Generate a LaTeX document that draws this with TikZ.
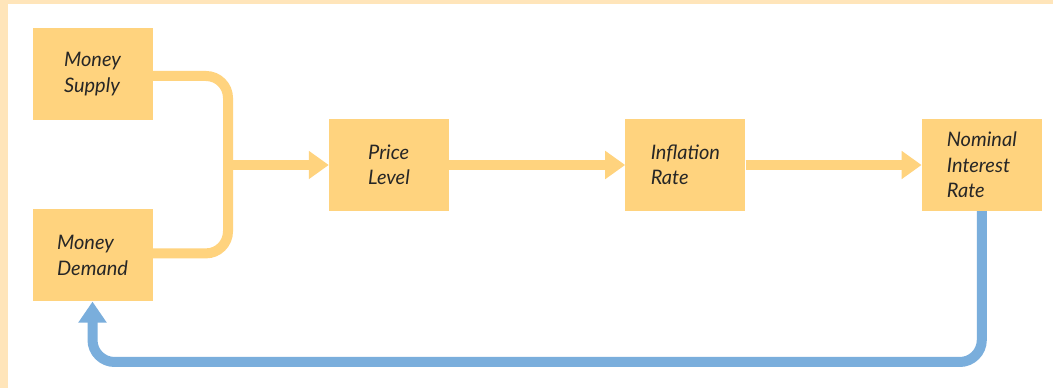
\documentclass[tikz,border=0pt]{standalone}
\usepackage{fontspec}
\setmainfont{Lato}
\usetikzlibrary{positioning, arrows.meta}
\definecolor{boxYellow}{HTML}{FFD37E}
\definecolor{loopBlue}{HTML}{7AAEDC}
\definecolor{frameTan}{HTML}{FFE5BA}
\definecolor{textGray}{HTML}{262626}

\begin{document}
\begin{tikzpicture}[
    node distance=89pt and 176pt,
    factor/.style={rectangle, fill=boxYellow, align=left, minimum width=120pt, minimum height=92pt, inner sep=0pt,
      font=\fontsize{20pt}{25.5pt}\selectfont\itshape, text=textGray},
    yline/.style={draw=boxYellow, line width=10pt, rounded corners=22pt},
    yarrow/.style={draw=boxYellow, line width=10pt, -{Triangle[length=20pt, width=27pt]}},
    bline/.style={draw=loopBlue, line width=10pt, rounded corners=22pt, -{Triangle[length=21pt, width=27pt]}}
  ]

    % frame
    \useasboundingbox (0,0) rectangle (1053pt,388pt);
    \fill[frameTan] (0,0) rectangle (1053pt,388pt);
    \fill[white] (8pt,0) rectangle (1053pt,384pt);

    % Money side
    \node[factor] (supply) at (92.5pt,314pt) {Money\\Supply};
    \node[factor, below=of supply] (demand) {Money\\Demand};

    % Main chain
    \node[factor] (price) at (389pt,223pt) {Price\\Level};
    \node[factor, right=of price] (inflation) {Inflation\\Rate};
    \node[factor, right=of inflation] (nominal) {Nominal\\Interest\\Rate};

    % Joining supply and demand
    \coordinate (join) at (228pt,223pt);
    \draw[yline] ([yshift=-2pt]supply.east) -| (join) |- ([yshift=2pt]demand.east);
    \draw[yarrow] (join) -- (price);

    % Arrows along the chain
    \draw[yarrow] (price) -- (inflation);
    \draw[yarrow] (inflation) -- (nominal);

    % Feedback loop
    \coordinate (loop) at (92.5pt,26pt);
    \draw[bline] (nominal.south) |- (loop) -- (demand.south);

\end{tikzpicture}
\end{document}
